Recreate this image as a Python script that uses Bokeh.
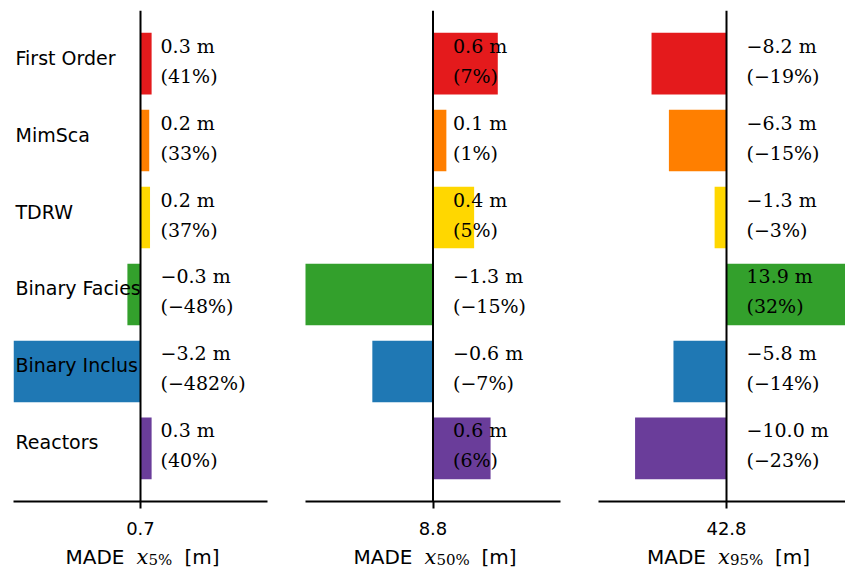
from bokeh.plotting import figure
from bokeh.layouts import row, column
from bokeh.models import ColumnDataSource, Range1d, Span, FixedTicker
from bokeh.core.properties import value
from bokeh.embed import file_html
from bokeh.resources import INLINE

# ---------------- data ----------------
categories = ["First Order", "MimSca", "TDRW", "Binary Facies", "Binary Inclus", "Reactors"]
colors = ["#e41a1c", "#ff7f00", "#ffd700", "#33a02c", "#1f78b4", "#6a3d9a"]

ref_labels = ["0.7", "8.8", "42.8"]
quantile_subs = ["5%", "50%", "95%"]

diff_x5 = [0.28, 0.22, 0.24, -0.33, -3.2, 0.28]
pct_x5 = [41, 33, 37, -48, -482, 40]
diff_x50 = [0.63, 0.13, 0.40, -1.3, -0.59, 0.56]
pct_x50 = [7, 1, 5, -15, -7, 6]
diff_x95 = [-8.2, -6.3, -1.3, 13.9, -5.8, -10.0]
pct_x95 = [-19, -15, -3, 32, -14, -23]

diffs = [diff_x5, diff_x50, diff_x95]
pcts = [pct_x5, pct_x50, pct_x95]

# ---------------- layout ----------------
half_range = [3.2, 1.24, 14.0]
frame_w = [254, 255, 247]
left_half_px = [127, 127.5, 128]
border_l = [13, 19, 18]
border_r = [19, 20, 0]
FRAME_H = 491
TOP = 10
BOTTOM = 44
LABEL_H = 26

SANS = value("DejaVu Sans")
SERIF = value("DejaVu Serif")


def fmt_m(d):
    return f"{d:.1f} m".replace("-", "\u2212")


def fmt_p(p):
    return f"({p}%)".replace("-", "\u2212")


def bare(fig):
    fig.outline_line_color = None
    fig.xgrid.visible = False
    fig.ygrid.visible = False
    fig.background_fill_color = "white"
    fig.border_fill_color = "white"


mains, labs = [], []
for i in range(3):
    half = half_range[i]
    x_end = half * (frame_w[i] - left_half_px[i]) / left_half_px[i]
    xr = Range1d(-half, x_end)
    p = figure(frame_width=frame_w[i], frame_height=FRAME_H,
               x_range=xr, y_range=Range1d(5.69, -0.69),
               output_backend="svg", toolbar_location=None,
               y_axis_location=None)
    p.min_border_top = TOP
    p.min_border_bottom = BOTTOM
    p.min_border_left = border_l[i]
    p.min_border_right = border_r[i]
    bare(p)

    src = ColumnDataSource(dict(
        y=list(range(len(categories))),
        diff=diffs[i],
        color=colors,
        cat=categories,
        line1=[fmt_m(d) for d in diffs[i]],
        line2=[fmt_p(v) for v in pcts[i]],
    ))
    p.hbar(y="y", left=0, right="diff", height=0.8, fill_color="color",
           line_color=None, source=src)
    p.add_layout(Span(location=0, dimension="height", line_color="black",
                      line_width=2))

    p.text(x=0, y="y", text="line1", source=src, x_offset=20, y_offset=-18,
           text_baseline="alphabetic", text_align="left",
           text_font=SERIF, text_font_size="19px", text_color="black")
    p.text(x=0, y="y", text="line2", source=src, x_offset=20, y_offset=12,
           text_baseline="alphabetic", text_align="left",
           text_font=SERIF, text_font_size="19px", text_color="black")

    if i == 0:
        p.text(x=-half, y="y", text="cat", source=src, x_offset=2, y_offset=-6,
               text_baseline="alphabetic", text_align="left",
               text_font=SANS, text_font_size="19px", text_color="black")

    ax = p.xaxis[0]
    ax.ticker = FixedTicker(ticks=[0])
    ax.major_label_overrides = {0: ref_labels[i]}
    ax.major_label_text_font = "DejaVu Sans"
    ax.major_label_text_font_size = "18px"
    ax.major_label_text_color = "black"
    ax.major_label_standoff = 13
    ax.major_tick_out = 7
    ax.major_tick_in = 0
    ax.major_tick_line_width = 2
    ax.major_tick_line_color = "black"
    ax.minor_tick_line_color = None
    ax.axis_line_width = 2
    ax.axis_line_color = "black"
    mains.append(p)

    # ---- axis title strip: MADE x_{q} [m] ----
    q = figure(frame_width=frame_w[i], frame_height=LABEL_H,
               x_range=xr, y_range=Range1d(0, 1),
               output_backend="svg", toolbar_location=None,
               x_axis_location=None, y_axis_location=None)
    q.min_border_top = 0
    q.min_border_bottom = 0
    q.min_border_left = border_l[i]
    q.min_border_right = border_r[i]
    bare(q)

    sub = quantile_subs[i]
    w_sub = 9 * len(sub) + 9
    total = 53 + 17 + 10 + w_sub + 11 + 28
    start = -total / 2
    pieces = [
        ("MADE", start - 2, -15, SANS, "20px", "normal"),
        ("x", start + 69, -15, SERIF, "21px", "italic"),
        (sub, start + 81, -12, SERIF, "15px", "normal"),
        ("[m]", start + 80 + w_sub + 10, -15, SANS, "20px", "normal"),
    ]
    for txt, xo, yo, fnt, fs, style in pieces:
        q.text(x=[0], y=[0], text=[txt], x_offset=xo, y_offset=yo,
               text_font=fnt, text_font_size=fs, text_font_style=style,
               text_align="left", text_baseline="alphabetic",
               text_color="black")
    labs.append(q)

layout = column(row(*mains), row(*labs))
open("out.html", "w").write(file_html(layout, INLINE))
